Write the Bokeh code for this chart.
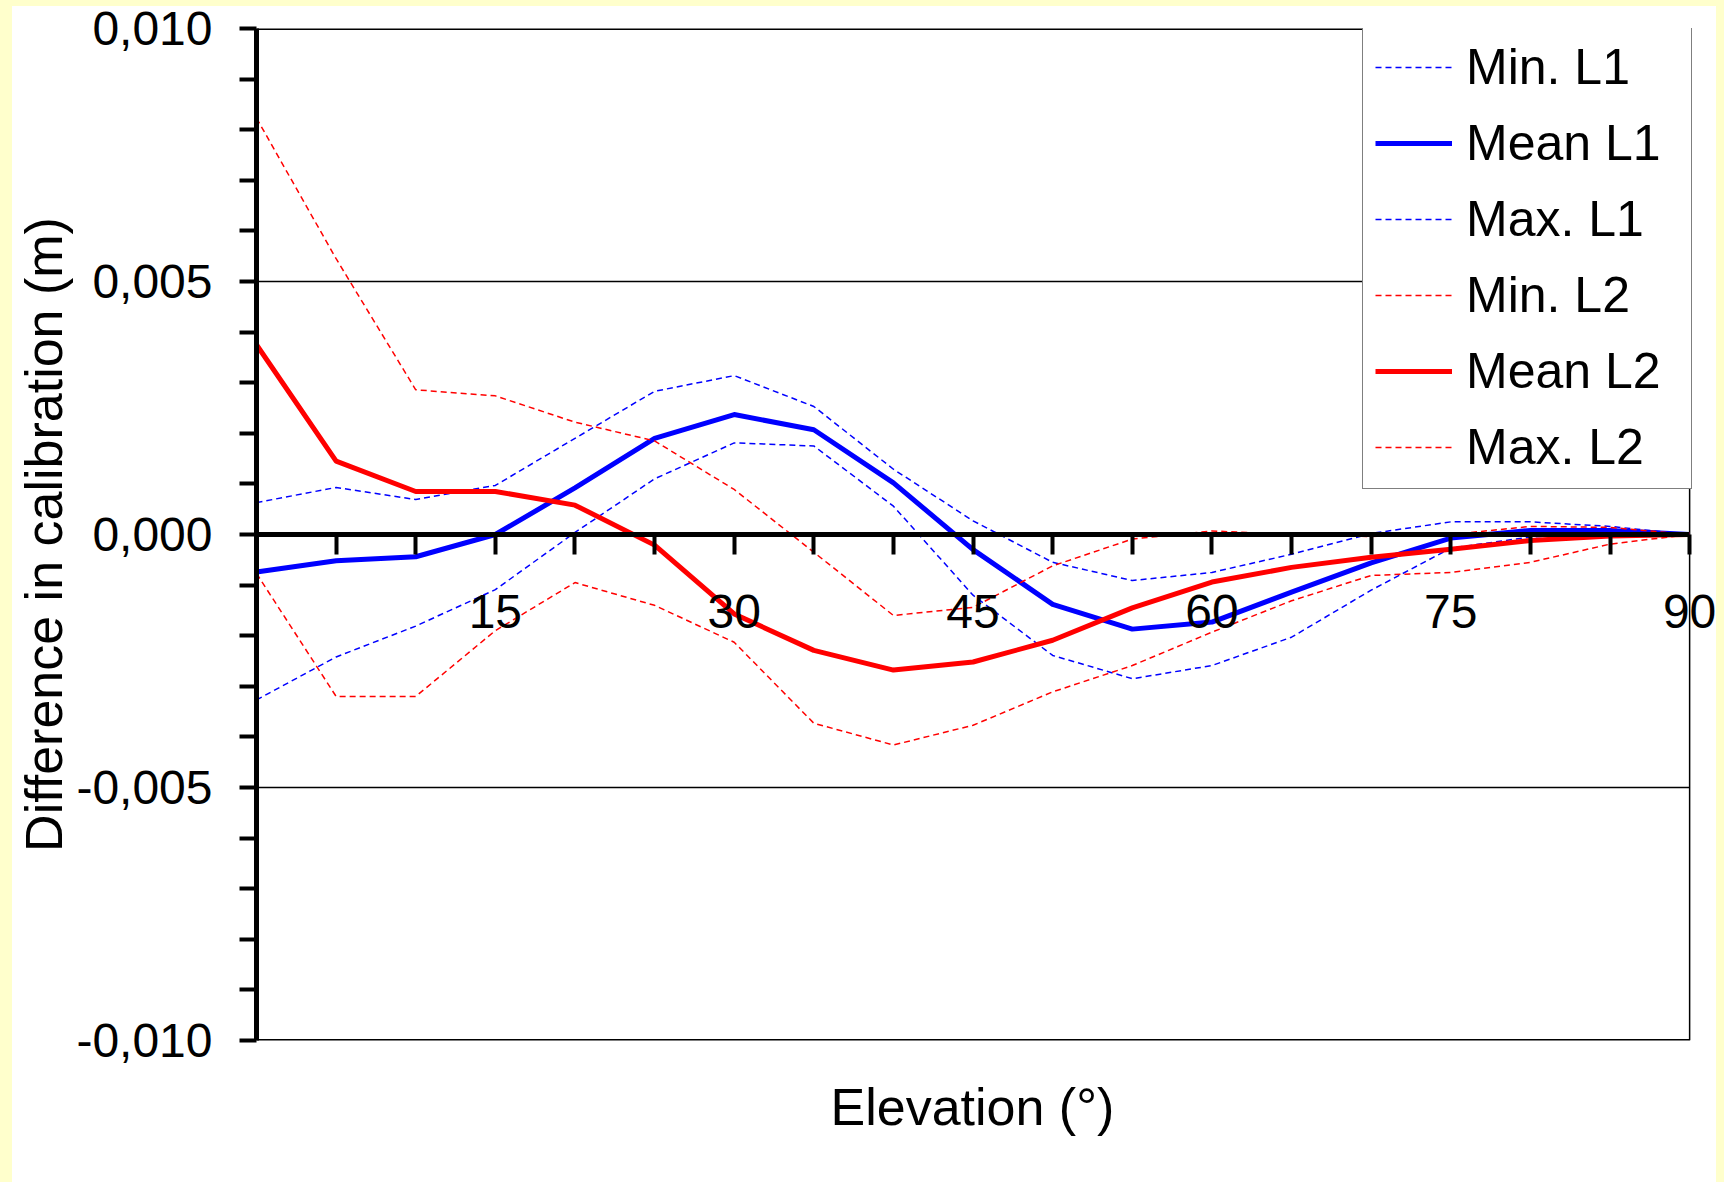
from bokeh.plotting import figure
from bokeh.models import LinearAxis, FixedTicker, Range1d, Legend, LegendItem, Title
from bokeh.layouts import column
from bokeh.embed import file_html
from bokeh.resources import INLINE

# Elevation angles (degrees)
elevation = [0, 5, 10, 15, 20, 25, 30, 35, 40, 45, 50, 55, 60, 65, 70, 75, 80, 85, 90]

# Calibration differences (m)
min_l1 = [-0.00327, -0.00242, -0.00181, -0.00109, 0.00004, 0.00110, 0.00181, 0.00175, 0.00056, -0.00120,
          -0.00239, -0.00285, -0.00259, -0.00203, -0.00110, -0.00027, -0.00005, 0.00003, 0.0]
mean_l1 = [-0.00074, -0.00052, -0.00044, 0.00000, 0.00092, 0.00190, 0.00237, 0.00207, 0.00102, -0.00030,
           -0.00138, -0.00187, -0.00173, -0.00114, -0.00056, -0.00007, 0.00008, 0.00008, 0.0]
max_l1 = [0.00063, 0.00093, 0.00069, 0.00097, 0.00190, 0.00283, 0.00314, 0.00253, 0.00129, 0.00027,
          -0.00055, -0.00091, -0.00075, -0.00039, 0.00002, 0.00025, 0.00025, 0.00016, 0.0]
min_l2 = [-0.00077, -0.00320, -0.00320, -0.00190, -0.00095, -0.00140, -0.00213, -0.00373, -0.00416, -0.00377,
          -0.00311, -0.00259, -0.00193, -0.00131, -0.00081, -0.00075, -0.00055, -0.00019, 0.0]
mean_l2 = [0.00375, 0.00145, 0.00085, 0.00085, 0.00058, -0.00021, -0.00157, -0.00229, -0.00268, -0.00252,
           -0.00209, -0.00145, -0.00094, -0.00065, -0.00045, -0.00029, -0.00012, -0.00003, 0.0]
max_l2 = [0.00823, 0.00545, 0.00286, 0.00274, 0.00222, 0.00185, 0.00089, -0.00035, -0.00160, -0.00144,
          -0.00062, -0.00009, 0.00007, 0.00000, -0.00004, 0.00000, 0.00016, 0.00014, 0.0]

# Axis ticks and labels
y_ticks = [-0.010, -0.005, 0.0, 0.005, 0.010]
y_tick_labels = ["-0,010", "-0,005", "0,000", "0,005", "0,010"]
x_ticks = [15, 30, 45, 60, 75, 90]
x_tick_labels = ["15", "30", "45", "60", "75", "90"]
x_minor = [5, 10, 20, 25, 35, 40, 50, 55, 65, 70, 80, 85]
y_minor = [round(k * 0.001, 3) for k in range(-10, 11) if k % 5]

FONT = "Liberation Sans"
PALE = "#ffffcc"

x_lo, x_hi = 0, x_ticks[-1]
y_lo, y_hi = y_ticks[0], y_ticks[-1]

# the frame runs a little past 90 deg so the last tick label is not cut;
# the box itself is drawn at 90 deg below
p = figure(
    width=1712, height=1182,
    x_range=Range1d(x_lo, 92.19), y_range=Range1d(y_lo, y_hi),
    x_axis_location=None, y_axis_location="left",
    output_backend="svg", toolbar_location=None,
    min_border_left=241, min_border_right=0, min_border_top=28, min_border_bottom=142,
    background_fill_alpha=0.0, border_fill_alpha=0.0,
    margin=(0, 0, 0, 12),
    styles={"background": (
        f"linear-gradient(to bottom, {PALE} 0px, {PALE} 6px, transparent 6px, transparent 100%), "
        f"linear-gradient(to left, {PALE} 0px, {PALE} 8px, white 8px, white 100%)"
    )},
)
p.outline_line_color = None
p.xgrid.visible = False
p.ygrid.visible = False

# plot box and horizontal grid lines, ending at 90 deg
p.segment(x0=[x_lo, x_lo], y0=[y_hi, y_lo], x1=[x_hi, x_hi], y1=[y_hi, y_lo],
          line_color="black", line_width=3)
p.segment(x0=[x_hi], y0=[y_lo], x1=[x_hi], y1=[y_hi], line_color="black", line_width=1.5)
p.segment(x0=[x_lo, x_lo], y0=[y_ticks[1], y_ticks[3]], x1=[x_hi, x_hi], y1=[y_ticks[1], y_ticks[3]],
          line_color="black", line_width=1.5)

# vertical axis
ya = p.yaxis[0]
ya.ticker = FixedTicker(ticks=y_ticks, minor_ticks=y_minor)
ya.major_label_overrides = dict(zip(y_ticks, y_tick_labels))
ya.axis_line_width = 5
ya.axis_line_color = "black"
ya.major_tick_out = 17
ya.major_tick_in = 0
ya.minor_tick_out = 17
ya.minor_tick_in = 0
ya.major_tick_line_width = 4
ya.minor_tick_line_width = 4
ya.major_tick_line_color = "black"
ya.minor_tick_line_color = "black"
ya.major_label_text_font = FONT
ya.major_label_text_font_size = "48px"
ya.major_label_text_color = "black"
ya.major_label_standoff = 27
ya.axis_label = "Difference in calibration (m)"
ya.axis_label_text_font = FONT
ya.axis_label_text_font_size = "52px"
ya.axis_label_text_font_style = "normal"
ya.axis_label_text_color = "black"
ya.axis_label_standoff = 0

# horizontal axis drawn along zero
xa = LinearAxis(
    fixed_location=0, bounds=(x_lo, x_hi),
    ticker=FixedTicker(ticks=x_ticks, minor_ticks=x_minor),
    major_label_overrides=dict(zip(x_ticks, x_tick_labels)),
    axis_line_width=5, axis_line_color="black",
    major_tick_out=20, major_tick_in=0, minor_tick_out=20, minor_tick_in=0,
    major_tick_line_width=4, minor_tick_line_width=4,
    major_tick_line_color="black", minor_tick_line_color="black",
    major_label_text_font=FONT, major_label_text_font_size="48px",
    major_label_text_color="black", major_label_standoff=40,
)
p.add_layout(xa, "below")

# axis title under the box, centred on the 0-90 deg span
p.add_layout(Title(
    text="Elevation (°)", align="left", offset=574, standoff=70,
    text_font=FONT, text_font_size="52px", text_font_style="normal", text_color="black",
), "below")

dash = "6 4"
r_min1 = p.line(elevation, min_l1, line_color="#0000ff", line_width=1.5, line_dash=dash)
r_mean1 = p.line(elevation, mean_l1, line_color="#0000ff", line_width=5, line_join="round")
r_max1 = p.line(elevation, max_l1, line_color="#0000ff", line_width=1.5, line_dash=dash)
r_min2 = p.line(elevation, min_l2, line_color="#ff0000", line_width=1.5, line_dash=dash)
r_mean2 = p.line(elevation, mean_l2, line_color="#ff0000", line_width=5, line_join="round")
r_max2 = p.line(elevation, max_l2, line_color="#ff0000", line_width=1.5, line_dash=dash)

legend = Legend(
    items=[
        LegendItem(label="Min. L1", renderers=[r_min1]),
        LegendItem(label="Mean L1", renderers=[r_mean1]),
        LegendItem(label="Max. L1", renderers=[r_max1]),
        LegendItem(label="Min. L2", renderers=[r_min2]),
        LegendItem(label="Mean L2", renderers=[r_mean2]),
        LegendItem(label="Max. L2", renderers=[r_max2]),
    ],
    location=(1106, 551), margin=0, padding=12, spacing=18,
    border_line_color="black", border_line_width=1.5,
    background_fill_color="white", background_fill_alpha=1.0,
    label_text_font=FONT, label_text_font_size="50px", label_text_color="black",
    glyph_width=77, glyph_height=50, label_height=50, label_width=213, label_standoff=14,
)
p.add_layout(legend)

page = column(p, styles={"background-color": PALE})

with open("out.html", "w") as f:
    f.write(file_html(page, INLINE))
